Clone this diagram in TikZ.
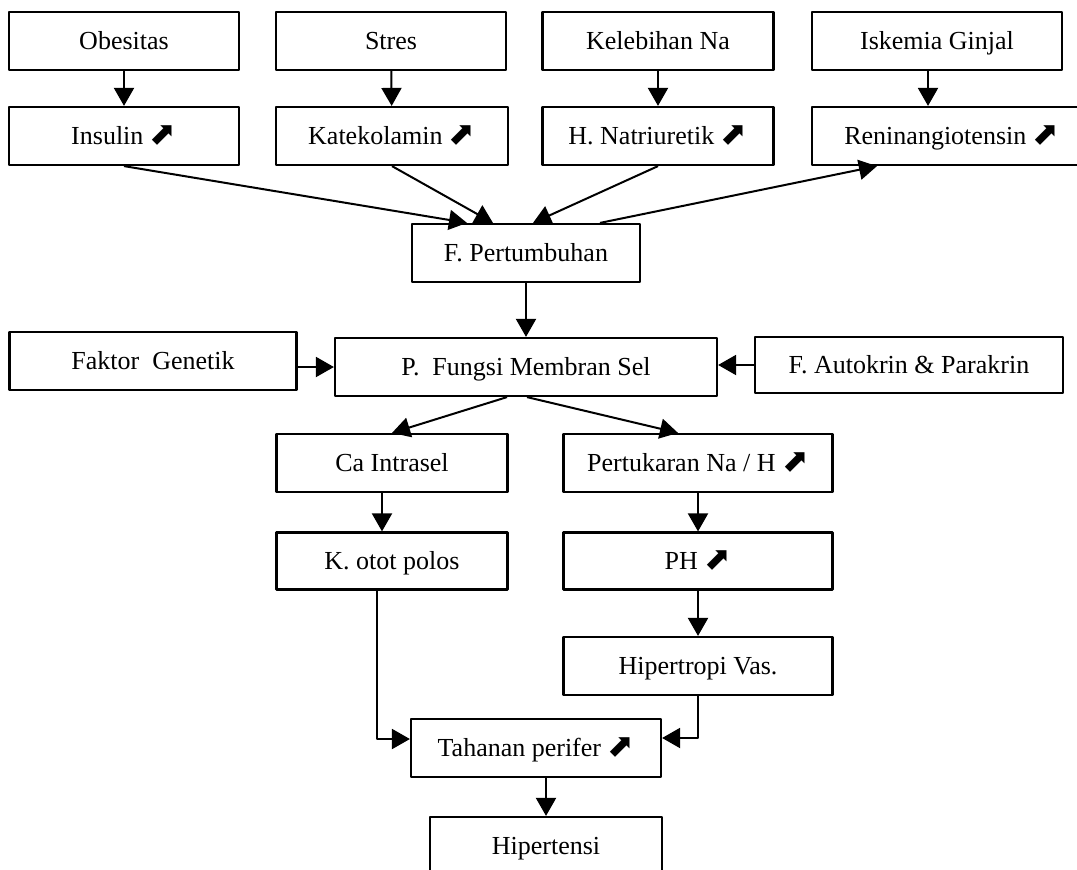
\documentclass[tikz,border=0pt]{standalone}
\usepackage{fontspec}
\setmainfont{Liberation Serif}
\newfontfamily\arrowfont{DejaVu Sans}
\usetikzlibrary{arrows.meta,calc}
\newcommand{\naik}{{\arrowfont\fontsize{16}{15}\selectfont\symbol{"2B08}}}

\begin{document}
\begin{tikzpicture}[
  x=0.5pt,
  y=-0.5pt,
  line join=round,
  kotak/.style={draw=black,line width=1.1pt,minimum height=29pt,inner sep=0pt,
    text height=8.6pt,text depth=0pt,font=\fontsize{13}{15}\selectfont},
  panah/.style={draw=black,line width=1pt,-{Triangle[length=9pt,width=10pt]}}
]
  \useasboundingbox (0,0) rectangle (1077,869);

  % Causes and their hormones.
  \node[kotak,minimum width=115pt] (obesitas) at (124,41) {Obesitas};
  \node[kotak,minimum width=115pt] (stres) at (391,41) {Stres};
  \node[kotak,minimum width=115.5pt] (kelebihan) at (658,41) {Kelebihan Na};
  \node[kotak,minimum width=125pt] (iskemia) at (937,41) {Iskemia Ginjal};

  \node[kotak,minimum width=115pt] (insulin) at (124,136) {Insulin \naik};
  \node[kotak,minimum width=116pt] (katekolamin) at (392,136) {Katekolamin \naik};
  \node[kotak,minimum width=115.5pt] (natriuretik) at (658,136) {H. Natriuretik \naik};
  \node[kotak,minimum width=140pt] (renin) at (952,136) {Reninangiotensin \naik};

  % Growth factors and the membrane row.
  \node[kotak,minimum width=114pt] (pertumbuhan) at (526,253) {F. Pertumbuhan};
  \node[kotak,minimum width=143.5pt] (genetik) at (153,361) {Faktor\ \ Genetik};
  \node[kotak,minimum width=191pt] (membran) at (526,367) {P.\ \ Fungsi Membran Sel};
  \node[kotak,minimum width=154pt,minimum height=28pt] (autokrin) at (909,365) {F. Autokrin \& Parakrin};

  % Two branches.
  \node[kotak,minimum width=115.5pt] (caintra) at (392,463) {Ca Intrasel};
  \node[kotak,minimum width=134.5pt] (pertukaran) at (698,463) {Pertukaran Na / H \naik};
  \node[kotak,minimum width=115.5pt,minimum height=28.5pt] (otot) at (392,561) {K. otot polos};
  \node[kotak,minimum width=134.5pt,minimum height=28.5pt] (ph) at (698,561) {PH \naik};
  \node[kotak,minimum width=134.5pt] (hipertropi) at (698,666) {Hipertropi Vas.};

  % Outcome.
  \node[kotak,minimum width=125pt] (tahanan) at (536,748) {Tahanan perifer \naik};
  \node[kotak,minimum width=116pt] (hipertensi) at (546,846) {Hipertensi};

  \coordinate (xisk) at (928,0);

  % Vertical links in the top rows.
  \draw[panah] (obesitas) -- (insulin);
  \draw[panah] (stres) -- (katekolamin);
  \draw[panah] (kelebihan) -- (natriuretik);
  \draw[panah] (iskemia.south -| xisk) -- (renin.north -| xisk);

  % Converging links to the growth factor.
  \draw[panah] (insulin.south) -- ($(pertumbuhan.north)+(-59,0)$);
  \draw[panah] (katekolamin.south) -- ($(pertumbuhan.north)+(-33,0)$);
  \draw[panah] (natriuretik.south) -- ($(pertumbuhan.north)+(7,0)$);
  \draw[panah] ($(pertumbuhan.north)+(74,0)$) -- ($(renin.south)+(-75,0)$);

  \draw[panah] (pertumbuhan) -- (membran);
  \draw[panah] (genetik.east |- membran.west) -- (membran.west);
  \draw[panah] (autokrin.west) -- (autokrin.west -| membran.east);

  % Branches below the membrane.
  \draw[panah] ($(membran.south)+(-19,0)$) -- (caintra.north);
  \draw[panah] ($(membran.south)+(1,0)$) -- ($(pertukaran.north)+(-20,0)$);
  \draw[panah] ($(caintra.south)+(-10,0)$) -- ($(otot.north)+(-10,0)$);
  \draw[panah] (pertukaran) -- (ph);
  \draw[panah] (ph) -- (hipertropi);

  % Both branches join at the peripheral resistance.
  \draw[panah] ($(otot.south)+(-15,0)$) |- ($(tahanan.west)+(0,-9)$);
  \draw[panah] (hipertropi.south) |- ($(tahanan.east)+(0,-10)$);
  \draw[panah] (tahanan.south -| hipertensi.north) -- (hipertensi.north);
\end{tikzpicture}
\end{document}
